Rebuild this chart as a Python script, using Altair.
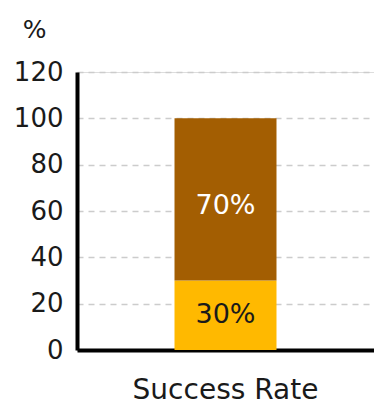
import altair as alt
import pandas as pd

# Outcome split for a single category, stacked to 100%
category = ["Success Rate", "Success Rate"]
outcome = ["Success", "Failure"]
share = [30, 70]
label_text = ["30%", "70%"]
label_color = ["#1a1a1a", "#ffffff"]

df = pd.DataFrame({
    "category": category,
    "outcome": outcome,
    "share": share,
    "label": label_text,
    "label_color": label_color,
})
df["top"] = df["share"].cumsum()
df["bottom"] = df["top"] - df["share"]
df["mid"] = (df["top"] + df["bottom"]) / 2

FONT = "DejaVu Sans"
INK = "#1a1a1a"

x_enc = alt.X(
    "category:N",
    title=None,
    scale=alt.Scale(paddingInner=0, paddingOuter=0.956),
    axis=alt.Axis(
        labelAngle=0,
        labelFontSize=28,
        labelFont=FONT,
        labelColor=INK,
        labelPadding=26,
        labelLimit=400,
        ticks=False,
        domainColor="#000000",
        domainWidth=4,
        grid=False,
    ),
)

bars = alt.Chart(df).mark_bar().encode(
    x=x_enc,
    y=alt.Y(
        "bottom:Q",
        title="%",
        scale=alt.Scale(domain=[0, 120], nice=False),
        axis=alt.Axis(
            values=[0, 20, 40, 60, 80, 100, 120],
            labelFontSize=26,
            labelFont=FONT,
            labelColor=INK,
            labelPadding=14,
            ticks=False,
            domainColor="#000000",
            domainWidth=4,
            grid=True,
            gridColor="#cccccc",
            gridWidth=1.5,
            gridDash=[6, 5],
            titleAngle=0,
            titleFont=FONT,
            titleFontSize=25,
            titleFontWeight="normal",
            titleColor=INK,
            titleX=-43,
            titleY=-35,
            titleAlign="center",
            titleBaseline="alphabetic",
        ),
    ),
    y2="top:Q",
    color=alt.Color(
        "outcome:N",
        scale=alt.Scale(domain=["Success", "Failure"], range=["#FFB900", "#A35E02"]),
        legend=None,
    ),
)

text_base = alt.Chart(df).mark_text(fontSize=27, font=FONT, baseline="middle")

labels_success = text_base.encode(
    x="category:N",
    y="mid:Q",
    text="label:N",
    color=alt.Color("label_color:N", scale=None),
).transform_filter(alt.datum.outcome == "Success")

labels_failure = text_base.mark_text(
    fontSize=27, font=FONT, baseline="middle", dy=7
).encode(
    x="category:N",
    y="mid:Q",
    text="label:N",
    color=alt.Color("label_color:N", scale=None),
).transform_filter(alt.datum.outcome == "Failure")

chart = (
    alt.layer(bars, labels_success, labels_failure)
    .properties(
        width=297,
        height=278,
        autosize=alt.AutoSizeParams(type="none"),
        padding={"left": 77, "top": 72, "right": 0, "bottom": 57},
    )
    .configure_view(stroke=None)
    .configure(background="#ffffff")
)

chart.save("out.html", embed_options={"renderer": "svg", "actions": False})
